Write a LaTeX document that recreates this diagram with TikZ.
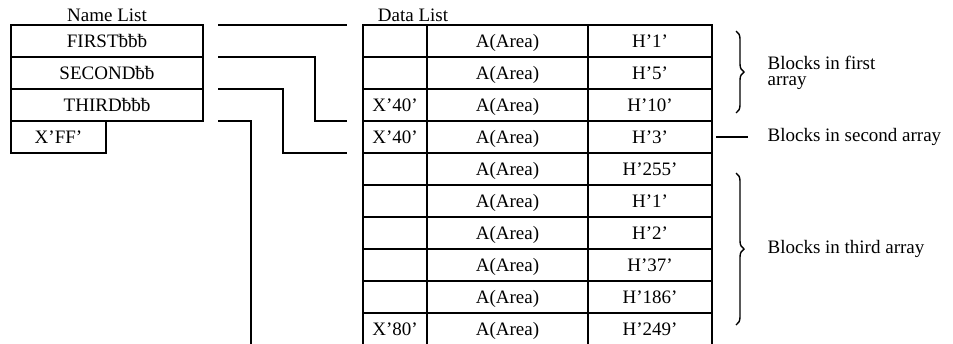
\documentclass[tikz,border=0pt]{standalone}
\usepackage{fontspec}
\setmainfont{Liberation Serif}
\usetikzlibrary{positioning,decorations.pathreplacing}

\begin{document}
\begin{tikzpicture}[
    x=0.5pt,y=-0.5pt,line width=0.6pt,
    every node/.style={font=\fontsize{9.5}{11}\selectfont},
    cell/.style={draw,outer sep=0pt,inner sep=0pt,minimum height=16pt,text height=6.3pt,text depth=0pt},
    namecell/.style={cell,minimum width=96pt},
    flagcell/.style={cell,minimum width=32pt},
    areacell/.style={cell,minimum width=80.5pt},
    lencell/.style={cell,minimum width=62pt},
    listtitle/.style={inner sep=0pt,text depth=0pt},
    blocknote/.style={inner sep=0pt,align=left},
    arraybrace/.style={decorate,decoration={brace,amplitude=4pt},line width=0.7pt}
  ]
  \clip (0,0) rectangle (953,343);
  \node[namecell] (first) at (107,41) {FIRSTƀƀƀ};
  \node[namecell,below=0pt of first] (second) {SECONDƀƀ};
  \node[namecell,below=0pt of second] (third) {THIRDƀƀƀ};
  \node[namecell,minimum width=47.5pt,anchor=north west] (endmark) at (third.south west) {X'FF'};
  \node[listtitle,above=1.25pt of first] (namelist) {Name List};

  \foreach \flag/\len [count=\i] in {{}/1,{}/5,X'40'/10,X'40'/3,{}/255,{}/1,{}/2,{}/37,{}/186,X'80'/249}{
    \node[flagcell] (f\i) at (395,{32*\i+9}) {\flag};
    \node[areacell,right=0pt of f\i] (a\i) {A(Area)};
    \node[lencell,right=0pt of a\i] (c\i) {H'\len'};
  }
  \node[listtitle,anchor=south] (datalist) at (413,22.5) {Data List};

  \draw ([xshift=7.5pt]first.north east) -- ([xshift=-8pt]f1.north west);
  \draw ([xshift=7.5pt]second.north east) -| ([xshift=-24pt]f4.north west) -- ([xshift=-8pt]f4.north west);
  \draw ([xshift=7.5pt]third.north east) -| ([xshift=-40pt]f5.north west) -- ([xshift=-8pt]f5.north west);
  \draw ([xshift=7.5pt]third.south east) -| ([xshift=-56pt]f10.south west);

  \node[blocknote,right=27.5pt of c2] (lblfirst) {Blocks in first\\[-3pt]array};
  \node[blocknote,right=27.5pt of c4] (lblsecond) {Blocks in second array};
  \node[blocknote,right=27.5pt of c7.south east] (lblthird) {Blocks in third array};
  \draw[arraybrace] ([xshift=12pt,yshift=-3pt]c1.north east) -- ([xshift=12pt,yshift=4pt]c3.south east);
  \draw ([xshift=2pt]c4.east) -- ([xshift=-9.5pt]lblsecond.west);
  \draw[arraybrace] ([xshift=12pt,yshift=-10pt]c5.north east) -- ([xshift=12pt,yshift=10pt]c10.south east);
\end{tikzpicture}
\end{document}
